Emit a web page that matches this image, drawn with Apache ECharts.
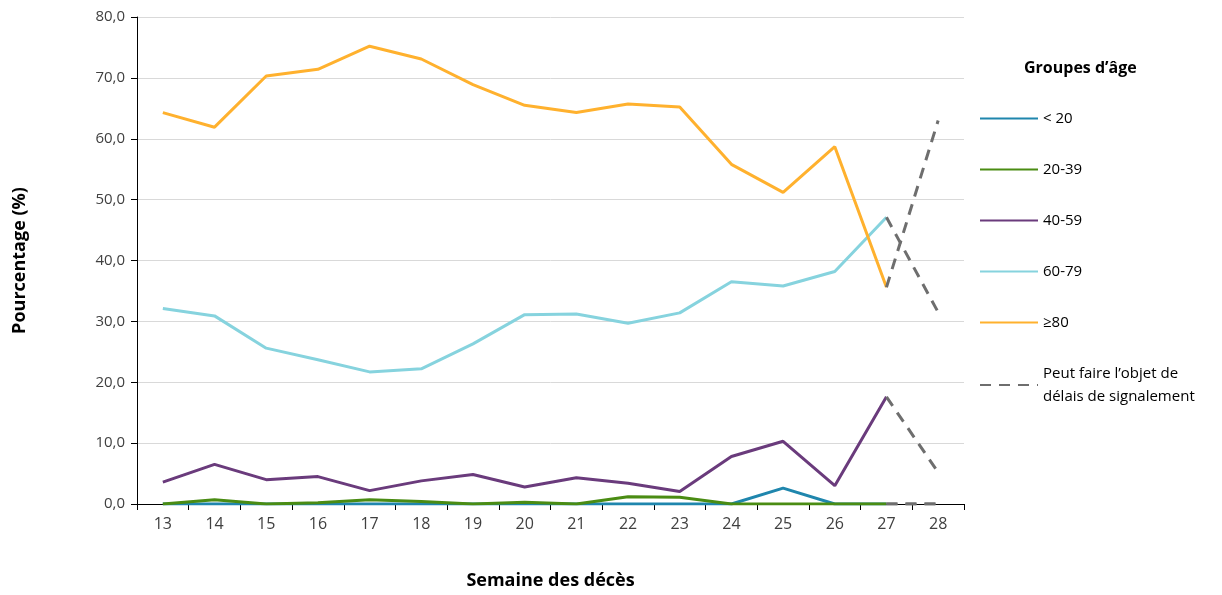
<!DOCTYPE html>
<html>
<head>
<meta charset="utf-8">
<script src="https://cdn.jsdelivr.net/npm/echarts@6/dist/echarts.min.js"></script>
<style>html,body{margin:0;padding:0;background:#fff}#c{width:1222px;height:595px}</style>
</head>
<body>
<div id="c"></div>
<script>
const weeks = ['13','14','15','16','17','18','19','20','21','22','23','24','25','26','27','28'];
const yTicks = [0,10,20,30,40,50,60,70,80];
const names = ['< 20','20-39','40-59','60-79','≥80'];
const lt20   = [0,0,0,0,0,0,0,0,0,0,0,0,2.6,0,0];
const a20_39 = [0,0.7,0,0.2,0.7,0.4,0,0.3,0,1.2,1.1,0,0,0,0];
const a40_59 = [3.6,6.5,4.0,4.5,2.2,3.8,4.85,2.8,4.3,3.4,2.05,7.8,10.3,3.0,17.6];
const a60_79 = [32.1,30.9,25.6,23.7,21.7,22.2,26.3,31.1,31.2,29.7,31.4,36.5,35.8,38.2,47.1];
const a80    = [64.3,61.9,70.3,71.4,75.2,73.1,68.9,65.5,64.3,65.7,65.2,55.8,51.2,58.7,35.6];
// Week 28 values (subject to reporting delays), per group in the same order
const week28 = [0,0,5.2,31.5,63.0];
const delayName = 'Peut faire l’objet de délais de signalement';

const colors = ['#1f86ad','#4a8c13','#6a3b7c','#86d3de','#ffb12e'];
const solid = [lt20,a20_39,a40_59,a60_79,a80];
const FONT = '"Open Sans", "Liberation Sans", sans-serif';

const series = [];
solid.forEach((arr,i)=>{
  series.push({
    name: names[i], type:'line', data: arr.concat([null]),
    showSymbol:false, symbol:'none', z: 3+i,
    lineStyle:{color:colors[i], width:3}, itemStyle:{color:colors[i]}
  });
});
// dashed segments 27 -> 28
[4,3,2,1,0].forEach((i)=>{
  const d = weeks.map(()=>null);
  d[14] = solid[i][14];
  d[15] = week28[i];
  series.push({
    name: delayName, type:'line', data:d, showSymbol:false, symbol:'none', z:10,
    lineStyle:{color:'#6e6e6e', width:3, type:[11,8]}, itemStyle:{color:'#6e6e6e'}
  });
});

const chart = echarts.init(document.getElementById('c'));
chart.setOption({
  animation:false,
  textStyle:{fontFamily:FONT},
  grid:{left:137, right:258, top:17, bottom:91, containLabel:false},
  xAxis:{
    type:'category', data:weeks, boundaryGap:true,
    name:'Semaine des décès', nameLocation:'middle', nameGap:68,
    nameTextStyle:{fontFamily:FONT, fontWeight:'bold', fontSize:18, color:'#000'},
    axisLine:{lineStyle:{color:'#000', width:1}},
    axisTick:{show:true, alignWithLabel:false, length:6, lineStyle:{color:'#000'}},
    axisLabel:{fontFamily:FONT, fontSize:16, color:'#404040', margin:12}
  },
  yAxis:{
    type:'value', min:0, max:80, interval:10,
    name:'Pourcentage (%)', nameLocation:'middle', nameGap:108,
    nameTextStyle:{fontFamily:FONT, fontWeight:'bold', fontSize:18, color:'#000'},
    axisLine:{show:true, lineStyle:{color:'#000', width:1}},
    axisTick:{show:true, length:6, lineStyle:{color:'#000'}},
    axisLabel:{fontFamily:FONT, fontSize:15, color:'#404040', margin:12,
      formatter:v=>v.toFixed(1).replace('.',',')},
    splitLine:{lineStyle:{color:'#d9d9d9', width:1}}
  },
  legend:{
    orient:'vertical', left:974, top:102, itemWidth:58, itemHeight:14, itemGap:28,
    data: names.concat([delayName]),
    itemStyle:{opacity:0},
    formatter: n => n === delayName ? 'Peut faire l’objet de\ndélais de signalement' : n,
    textStyle:{fontFamily:FONT, fontSize:15, color:'#000', lineHeight:23},
    selectedMode:false
  },
  graphic:[{
    type:'text', left:1024, top:60,
    style:{text:'Groupes d’âge', font:'bold 16px '+FONT, fill:'#000'}
  }],
  series: series
});
</script>
</body>
</html>
